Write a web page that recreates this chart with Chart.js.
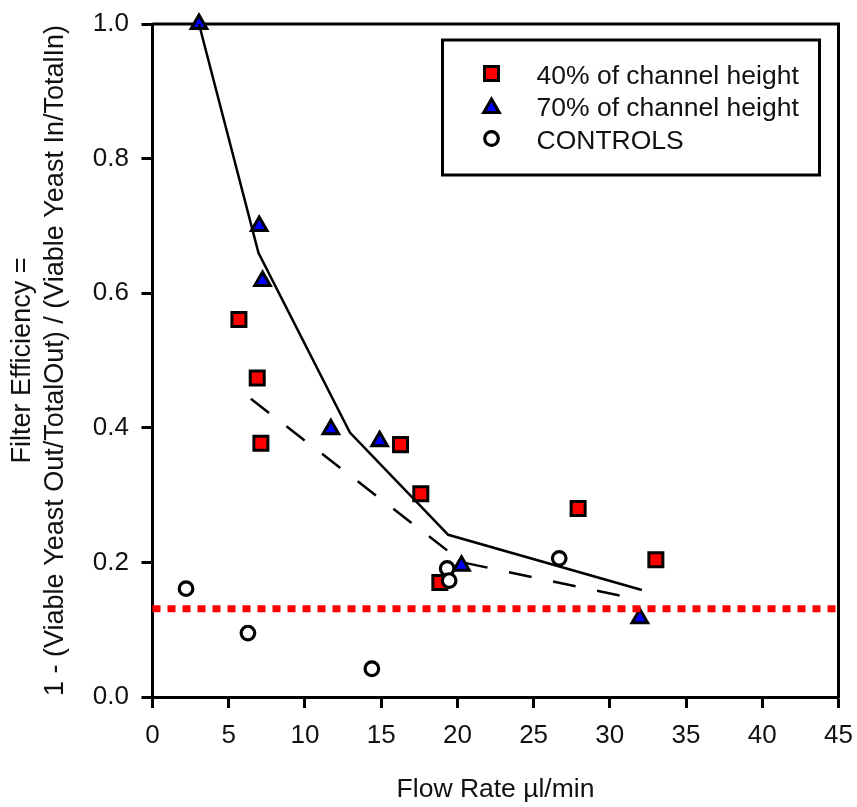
<!DOCTYPE html>
<html>
<head>
<meta charset="utf-8">
<script src="https://cdn.jsdelivr.net/npm/chart.js@4.4.1/dist/chart.umd.min.js"></script>
<style>
  html, body { margin: 0; padding: 0; background: #fff; }
  canvas { display: block; }
</style>
</head>
<body>
<canvas id="chart" width="857" height="807"></canvas>
<script>
// ---------------- data ----------------
// 40% of channel height (red squares)
const h40X = [5.67, 6.87, 7.11, 16.27, 17.6, 18.85, 27.92, 33.02];
const h40Y = [0.561, 0.474, 0.377, 0.375, 0.302, 0.170, 0.280, 0.204];

// 70% of channel height (blue triangles)
const h70X = [3.05, 7.0, 7.22, 11.7, 14.9, 20.27, 31.97];
const h70Y = [1.0, 0.70, 0.618, 0.398, 0.380, 0.195, 0.117];

// controls (open circles)
const ctrlX = [2.2, 6.26, 14.39, 19.33, 19.46, 26.68];
const ctrlY = [0.161, 0.095, 0.042, 0.191, 0.173, 0.206];

// trend lines
const solidX = [3.05, 6.95, 12.95, 19.4, 32.1];
const solidY = [1.0, 0.66, 0.393, 0.241, 0.159];
const dashX = [6.45, 20.35, 31.45];
const dashY = [0.443, 0.200, 0.147];

// red dotted threshold
const limitX = [0, 45];
const limitY = [0.131, 0.131];

// axis ticks
const xTicks = [0, 5, 10, 15, 20, 25, 30, 35, 40, 45];
const yTicks = [0, 0.2, 0.4, 0.6, 0.8, 1.0];

const legendLabels = ['40% of channel height', '70% of channel height', 'CONTROLS'];

// -----------------------------------------------------------
const FONT = '"Liberation Sans", Arial, Helvetica, sans-serif';
const pts = (xs, ys) => xs.map((x, i) => ({ x: x, y: ys[i] }));

// no extra room for edge labels, the layout padding handles it
function noScalePadding(s) {
  s.paddingTop = 0;
  s.paddingBottom = 0;
  s.paddingLeft = 0;
  s.paddingRight = 0;
}

// top + right frame of the plot box
const framePlugin = {
  id: 'frame',
  beforeDatasetsDraw(chart) {
    const { ctx, chartArea: a } = chart;
    ctx.save();
    ctx.strokeStyle = '#000';
    ctx.lineWidth = 3;
    ctx.beginPath();
    ctx.moveTo(a.left, a.top);
    ctx.lineTo(a.right, a.top);
    ctx.lineTo(a.right, a.bottom + 1.5);
    ctx.stroke();
    ctx.restore();
  }
};

// boxed legend inside the plot, top right
const boxLegend = {
  id: 'boxLegend',
  afterDraw(chart) {
    const { ctx, chartArea: a } = chart;
    const w = 377, h = 135;
    const left = a.right - 19 - w, top = a.top + 16;
    ctx.save();
    ctx.strokeStyle = '#000';
    ctx.lineWidth = 3;
    ctx.strokeRect(left, top, w, h);

    [3, 4, 5].forEach((di, i) => {
      const ds = chart.data.datasets[di];
      const cy = top + 33.5 + i * 32.5;
      ctx.fillStyle = ds.pointBackgroundColor;
      ctx.strokeStyle = ds.pointBorderColor;
      ctx.lineWidth = ds.pointBorderWidth;
      Chart.helpers.drawPoint(ctx, {
        pointStyle: ds.pointStyle,
        radius: ds.pointRadius,
        borderWidth: ds.pointBorderWidth,
        rotation: 0
      }, left + 49, cy + (ds.pointStyle === 'triangle' ? 2 : 0));

      ctx.fillStyle = '#111';
      ctx.font = '26.5px ' + FONT;
      ctx.textBaseline = 'alphabetic';
      ctx.textAlign = 'left';
      ctx.fillText(legendLabels[i], left + 94, cy + 10);
    });
    ctx.restore();
  }
};

new Chart(document.getElementById('chart'), {
  type: 'scatter',
  data: {
    datasets: [
      {
        label: 'limit',
        data: pts(limitX, limitY),
        showLine: true,
        pointRadius: 0,
        borderColor: '#ff0000',
        borderWidth: 7,
        borderDash: [8, 7],
        borderCapStyle: 'butt',
        clip: false,
        order: 0
      },
      {
        label: 'fit 70%',
        data: pts(solidX, solidY),
        showLine: true,
        pointRadius: 0,
        borderColor: '#000',
        borderWidth: 2.5,
        clip: false,
        order: 1
      },
      {
        label: 'fit 40%',
        data: pts(dashX, dashY),
        showLine: true,
        pointRadius: 0,
        borderColor: '#000',
        borderWidth: 2.5,
        borderDash: [23, 22],
        clip: false,
        order: 2
      },
      {
        label: legendLabels[0],
        data: pts(h40X, h40Y),
        pointStyle: 'rect',
        pointRadius: 9.9,
        pointBackgroundColor: '#ff0000',
        pointBorderColor: '#000',
        pointBorderWidth: 3,
        clip: false,
        order: 5
      },
      {
        label: legendLabels[1],
        data: pts(h70X, h70Y),
        pointStyle: 'triangle',
        pointRadius: 9,
        pointBackgroundColor: '#0000ff',
        pointBorderColor: '#000',
        pointBorderWidth: 3,
        clip: false,
        order: 3
      },
      {
        label: legendLabels[2],
        data: pts(ctrlX, ctrlY),
        pointStyle: 'circle',
        pointRadius: 6.8,
        pointBackgroundColor: '#ffffff',
        pointBorderColor: '#000',
        pointBorderWidth: 3.2,
        clip: false,
        order: 4
      }
    ]
  },
  options: {
    responsive: false,
    animation: false,
    events: [],
    layout: { autoPadding: false, padding: { top: 24, right: 18.5, bottom: 0, left: 0 } },
    plugins: {
      legend: { display: false },
      tooltip: { enabled: false }
    },
    scales: {
      x: {
        type: 'linear',
        min: 0,
        max: 45,
        afterFit: s => { s.height = 110; noScalePadding(s); },
        afterBuildTicks: s => { s.ticks = xTicks.map(v => ({ value: v })); },
        border: { display: true, color: '#000', width: 3 },
        grid: { drawOnChartArea: false, drawTicks: true, tickLength: 11, tickWidth: 3, tickColor: '#000', color: '#000' },
        ticks: { color: '#111', padding: 12.5, font: { family: FONT, size: 26 }, callback: v => String(v) },
        title: {
          display: true,
          text: 'Flow Rate \u00b5l/min',
          color: '#111',
          padding: { top: 0, bottom: 1.5 },
          font: { family: FONT, size: 26.5, lineHeight: 1.2 }
        }
      },
      y: {
        type: 'linear',
        min: 0,
        max: 1,
        afterFit: s => { s.width = 152.5; noScalePadding(s); },
        afterBuildTicks: s => { s.ticks = yTicks.map(v => ({ value: v })); },
        border: { display: true, color: '#000', width: 3 },
        grid: { drawOnChartArea: false, drawTicks: true, tickLength: 11, tickWidth: 3, tickColor: '#000', color: '#000' },
        ticks: { color: '#111', padding: 12.5, font: { family: FONT, size: 26 }, callback: v => v.toFixed(1) },
        title: {
          display: true,
          text: ['Filter Efficiency =', '1 - (Viable Yeast Out/TotalOut) / (Viable Yeast In/TotalIn)'],
          color: '#111',
          padding: { top: 6.8, bottom: 0 },
          font: { family: FONT, size: 27, lineHeight: 1.2 }
        }
      }
    }
  },
  plugins: [framePlugin, boxLegend]
});
</script>
</body>
</html>
